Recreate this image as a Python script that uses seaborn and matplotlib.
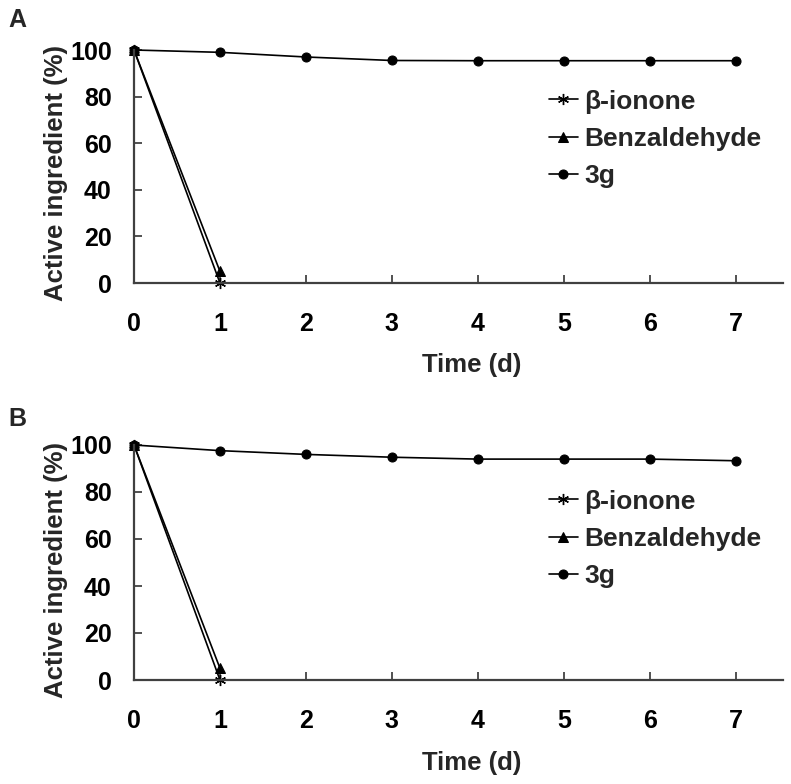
import numpy as np
import pandas as pd
import matplotlib
matplotlib.use("Agg")
import matplotlib.pyplot as plt
import seaborn as sns

# ---- data ----
days = [0, 1, 2, 3, 4, 5, 6, 7]
days_short = [0, 1]
series_names = ["β-ionone", "Benzaldehyde", "3g"]

a_ionone = [100, 0]
a_benzaldehyde = [100, 5]
a_3g = [100, 99.0, 97.0, 95.5, 95.4, 95.4, 95.4, 95.4]

b_ionone = [100, 0]
b_benzaldehyde = [100, 5]
b_3g = [100, 97.6, 96.0, 94.8, 94.0, 94.0, 94.0, 93.3]

x_ticks = [0, 1, 2, 3, 4, 5, 6, 7]
y_ticks = [0, 20, 40, 60, 80, 100]
panel_labels = ["A", "B"]

sns.set_style("ticks")
plt.rcParams["font.family"] = ["Liberation Sans", "DejaVu Sans"]
plt.rcParams["font.weight"] = "bold"

fig = plt.figure(figsize=(7.91, 7.84), dpi=100)

W, H = 791, 784
def axes_rect(left_px, right_px, bottom_px, top_px):
    return [left_px / W, 1 - bottom_px / H, (right_px - left_px) / W, (bottom_px - top_px) / H]

ax_a = fig.add_axes(axes_rect(134, 783, 283, 50))
ax_b = fig.add_axes(axes_rect(134, 783, 680, 445))

styles = {
    "β-ionone": dict(marker=(6, 2, 0), markersize=8, markeredgewidth=1.0),
    "Benzaldehyde": dict(marker="^", markersize=7),
    "3g": dict(marker="o", markersize=6.5),
}

panels = [
    (ax_a, a_ionone, a_benzaldehyde, a_3g, -0.35, 0.83),
    (ax_b, b_ionone, b_benzaldehyde, b_3g, -0.355, 0.81),
]

for idx, (ax, ion, benz, g3, xlab_y, leg_y) in enumerate(panels):
    frames = [
        pd.DataFrame({"day": days_short, "value": ion, "series": series_names[0]}),
        pd.DataFrame({"day": days_short, "value": benz, "series": series_names[1]}),
        pd.DataFrame({"day": days, "value": g3, "series": series_names[2]}),
    ]
    for df in frames:
        name = df["series"].iloc[0]
        sns.lineplot(data=df, x="day", y="value", ax=ax, color="black",
                     linewidth=1.2, estimator=None, label=name, clip_on=False,
                     markeredgecolor="black", markerfacecolor="black",
                     **styles[name])

    ax.set_xlim(0, 7.55)
    ax.set_ylim(0, 100)
    ax.set_xticks(x_ticks)
    ax.set_yticks(y_ticks)
    ax.tick_params(axis="both", direction="in", length=6, width=1.2,
                   colors="#333333", labelcolor="black", labelsize=18)
    ax.tick_params(axis="x", pad=21)
    ax.tick_params(axis="y", pad=16)
    for lab in ax.get_xticklabels() + ax.get_yticklabels():
        lab.set_fontweight("bold")
    for s in ["top", "right"]:
        ax.spines[s].set_visible(False)
    for s in ["left", "bottom"]:
        ax.spines[s].set_linewidth(1.6)
        ax.spines[s].set_color("#404040")

    ax.set_xlabel("Time (d)", fontsize=18.5, fontweight="bold")
    ax.set_ylabel("Active ingredient (%)", fontsize=18.5, fontweight="bold")
    ax.xaxis.set_label_coords(0.52, xlab_y)
    ax.xaxis.label.set_va("center")
    ax.yaxis.set_label_coords(-0.12, 0.47)
    ax.yaxis.label.set_va("center")

    leg = ax.legend(loc="upper left", bbox_to_anchor=(0.639, leg_y), frameon=False,
                    fontsize=19, handlelength=1.1, handletextpad=0.25,
                    labelspacing=0.5, borderpad=0, borderaxespad=0)
    for t in leg.get_texts():
        t.set_fontweight("bold")

fig.text(8 / W, 1 - 8 / H, panel_labels[0], fontsize=18, fontweight="bold", va="top", ha="left")
fig.text(8 / W, 1 - 407 / H, panel_labels[1], fontsize=18, fontweight="bold", va="top", ha="left")

fig.savefig("out.png", dpi=100, facecolor="white")
